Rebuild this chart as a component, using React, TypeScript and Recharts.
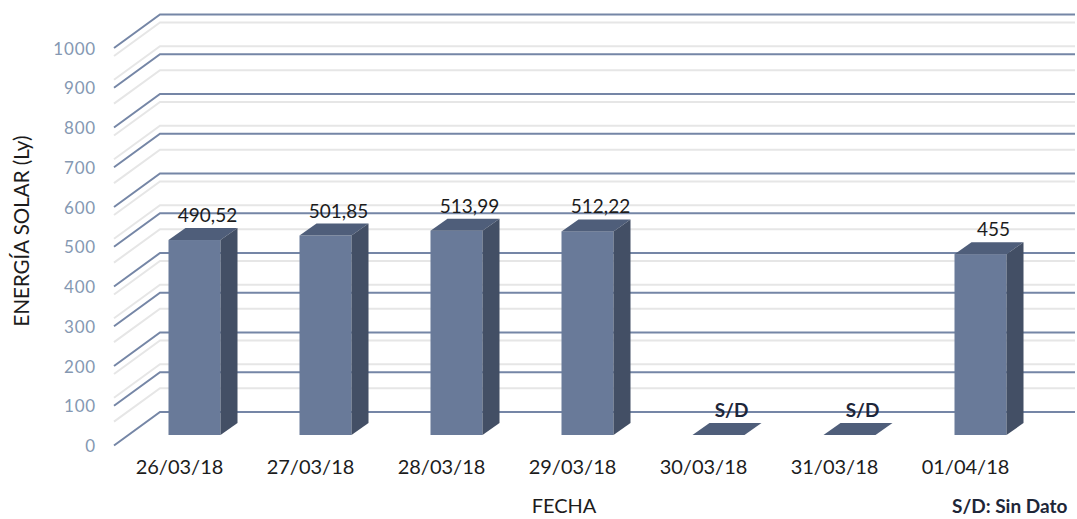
import React from 'react';
import { BarChart, Bar, XAxis, YAxis, CartesianGrid, LabelList, Label } from 'recharts';

// ---- data ----
const categories: string[] = ['26/03/18', '27/03/18', '28/03/18', '29/03/18', '30/03/18', '31/03/18', '01/04/18'];
const energy: (number | null)[] = [490.52, 501.85, 513.99, 512.22, null, null, 455];
const yTicks: number[] = [0, 100, 200, 300, 400, 500, 600, 700, 800, 900, 1000];
const missingLabel = 'S/D';
const yTitle = 'ENERGÍA SOLAR (Ly)';
const xTitle = 'FECHA';
const note = 'S/D: Sin Dato';

// ---- style / layout constants ----
const W = 1077;
const H = 519;
const FRONT = { dx: -14.5, dy: 10.5 };
const BACK = { dx: 31.5, dy: -23 };
const DEPTH = { dx: 17, dy: -12 };
const FONT = 'Lato, "Open Sans", sans-serif';
const C_FRONT = '#697a99';
const C_SIDE = '#434f65';
const C_TOP = '#4f5e7a';
const C_GRID = '#7586a6';
const C_MINOR = '#e6e6e6';
const C_TICK = '#8598b2';
const C_TEXT = '#1c1c1c';

const formatValue = (v: number | null) => (v == null ? missingLabel : String(v).replace('.', ','));

const minorTicks: number[] = yTicks
  .slice(0, -1)
  .flatMap((t, i) => {
    const step = (yTicks[i + 1] - t) / 5;
    return [1, 2, 3, 4].map((k) => t + k * step);
  });

const data = categories.map((c, i) => ({
  fecha: c,
  energia: energy[i] ?? 0,
  etiqueta: formatValue(energy[i]),
}));

const makeGridLine = (color: string, width: number) => (props: any) => {
  const { x1, x2, y1 } = props;
  const fx = x1 + FRONT.dx;
  const fy = y1 + FRONT.dy;
  const bx = x1 + BACK.dx;
  const by = y1 + BACK.dy;
  const ex = x2 + BACK.dx - 2;
  return (
    <polyline
      key={props.key ?? `l-${y1}`}
      points={`${fx},${fy} ${bx},${by} ${ex},${by}`}
      fill="none"
      stroke={color}
      strokeWidth={width}
    />
  );
};

const Bar3D = (props: any) => {
  const { x, y, width, height } = props;
  if (x == null || y == null) return null;
  const h = Math.max(0, height || 0);
  const { dx, dy } = DEPTH;
  return (
    <g>
      <rect x={x} y={y} width={width} height={h} fill={C_FRONT} />
      <polygon
        points={`${x},${y} ${x + dx},${y + dy} ${x + width + dx},${y + dy} ${x + width},${y}`}
        fill={C_TOP}
      />
      {h > 0 && (
        <polygon
          points={`${x + width},${y} ${x + width + dx},${y + dy} ${x + width + dx},${y + h + dy} ${x + width},${y + h}`}
          fill={C_SIDE}
        />
      )}
    </g>
  );
};

const ValueLabel = (props: any) => {
  const { x, y, width, value } = props;
  if (x == null || y == null) return null;
  const missing = value === missingLabel;
  return (
    <text
      x={x + width / 2 + 13}
      y={y - 18}
      textAnchor="middle"
      fontFamily={FONT}
      fontSize={19}
      fontWeight={missing ? 700 : 400}
      fill={missing ? '#1e2638' : C_TEXT}
    >
      {value}
    </text>
  );
};

const YTick = (props: any) => {
  const { y, payload } = props;
  return (
    <text
      x={96}
      y={y + FRONT.dy}
      textAnchor="end"
      dominantBaseline="central"
      fontFamily={FONT}
      fontSize={17}
      letterSpacing={0.8}
      fill={C_TICK}
    >
      {payload.value}
    </text>
  );
};

const XTick = (props: any) => {
  const { x, y, payload } = props;
  return (
    <text x={x + FRONT.dx} y={y + 39} textAnchor="middle" fontFamily={FONT} fontSize={20} fill={C_TEXT}>
      {payload.value}
    </text>
  );
};

const YTitle = () => (
  <text
    transform="translate(29, 231) rotate(-90)"
    textAnchor="middle"
    fontFamily={FONT}
    fontSize={20.5}
    fill={C_TEXT}
  >
    {yTitle}
  </text>
);

const XTitles = () => (
  <g>
    <text x={564} y={513} textAnchor="middle" fontFamily={FONT} fontSize={20} fill={C_TEXT}>
      {xTitle}
    </text>
    <text x={952} y={513} textAnchor="start" fontFamily={FONT} fontSize={19} fontWeight={700} fill="#1e2638">
      {note}
    </text>
  </g>
);

export default function App() {
  return (
    <div style={{ position: 'absolute', left: 0, top: 0, width: W, height: H, background: '#fff' }}>
      <BarChart
        width={W}
        height={H}
        data={data}
        margin={{ top: 37.5, right: 31.5, bottom: 44, left: 28.5 }}
        barSize={52}
      >
        <CartesianGrid vertical={false} horizontalValues={minorTicks} horizontal={makeGridLine(C_MINOR, 2)} />
        <CartesianGrid vertical={false} horizontal={makeGridLine(C_GRID, 2)} />
        <XAxis
          dataKey="fecha"
          axisLine={false}
          tickLine={false}
          tickSize={0}
          tickMargin={0}
          interval={0}
          height={40}
          tick={<XTick />}
        >
          <Label content={<XTitles />} />
        </XAxis>
        <YAxis
          domain={[0, 1000]}
          ticks={yTicks}
          axisLine={false}
          tickLine={false}
          tickSize={0}
          tickMargin={0}
          width={100}
          tick={<YTick />}
        >
          <Label content={<YTitle />} />
        </YAxis>
        <Bar dataKey="energia" shape={<Bar3D />} isAnimationActive={false}>
          <LabelList dataKey="etiqueta" content={<ValueLabel />} />
        </Bar>
      </BarChart>
    </div>
  );
}
